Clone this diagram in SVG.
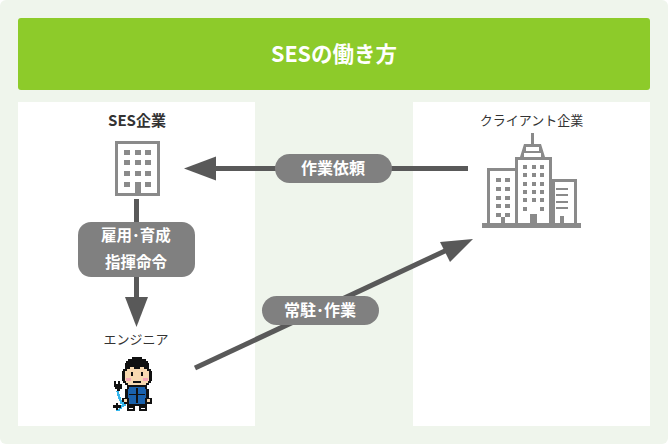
<svg xmlns="http://www.w3.org/2000/svg" width="668" height="444" viewBox="0 0 668 444">
<style>
text{font-family:"Noto Sans CJK JP","Noto Sans",sans-serif;text-anchor:middle}
.n{font-size:13px;fill:#333}
.l{font-size:16px;font-weight:700;fill:#fff}
.p{fill:#808080}
.c{stroke:#595959;stroke-width:5;fill:none}
.h{fill:#595959}
.g{fill:#8a8a8a}
.w{fill:#fff}
.k{fill:#111}
.s{fill:#f8d9b0}
.b{fill:#1a62ad}
</style>
<rect width="668" height="444" rx="6" fill="#eff5ec"/>
<g id="header"><rect x="18" y="18" width="632" height="72" rx="3" fill="#8dcb2a"/><text x="334" y="62" font-size="21.500" font-weight="700" fill="#fff">SESの働き方</text></g>
<rect x="18" y="102" width="237" height="324" fill="#fff"/>
<rect x="413" y="102" width="237" height="324" fill="#fff"/>
<g id="connectors">
<path class="c" d="M468 168.500H213"/><path class="h" d="M184 168.500L216 156.500V180.500Z"/>
<path class="c" d="M136.500 199V299"/><path class="h" d="M125 297H148L136.500 327Z"/>
<path class="c" d="M195 368L447 250"/><path class="h" d="M473 239L440 242L450 262Z"/>
</g>
<g id="ses">
<text class="n" x="137" y="126" style="font-size:15px;font-weight:700">SES企業</text>
<rect class="g" x="115" y="141" width="45" height="55"/><rect class="w" x="118" y="144" width="39" height="49"/>
<path class="g" d="M124 150h6v5h-6zM135 150h6v5h-6zM145 150h6v5h-6zM124 160h6v5h-6zM135 160h6v5h-6zM145 160h6v5h-6zM124 171h6v5h-6zM135 171h6v5h-6zM145 171h6v5h-6zM124 182h6v5h-6zM145 182h6v5h-6zM135 182h6v12h-6z"/>
</g>
<g id="client">
<text class="n" x="531.500" y="125">クライアント企業</text>
<path class="g" d="M531 133h3v11h-3zM482 223h99v5h-99z"/>
<path class="g" d="M487 168h28v55h-28zM515 157h37v66h-37zM552 179h25v44h-25zM520 157l4-13h17l4 13z"/>
<path class="w" d="M490 171h25v52h-25zM518 160h31v63h-31zM555 182h19v41h-19zM526 147h13v4h-13zM524 153h17v4h-17z"/>
<path class="g" d="M496 178h5v4h-5zM505 178h5v4h-5zM496 187h5v4h-5zM505 187h5v4h-5zM496 196h5v4h-5zM505 196h5v4h-5zM496 204h5v4h-5zM505 204h5v4h-5zM496 213h5v4h-5zM505 213h5v4h-5zM501 217h4v6h-4z"/>
<path class="g" d="M523 165h4v4h-4zM532 165h4v4h-4zM540 165h4v4h-4zM523 173h4v4h-4zM532 173h4v4h-4zM540 173h4v4h-4zM523 182h4v4h-4zM532 182h4v4h-4zM540 182h4v4h-4zM523 190h4v4h-4zM532 190h4v4h-4zM540 190h4v4h-4zM523 198h4v4h-4zM532 198h4v4h-4zM540 198h4v4h-4zM523 207h4v4h-4zM540 207h4v4h-4zM530 214h7v9h-7z"/>
<path class="g" d="M556 188h12v2h-12zM556 194h12v2h-12zM556 201h12v2h-12zM556 207h12v2h-12zM560 216h4v7h-4z"/>
</g>
<g id="engineer">
<text class="n" x="136" y="344">エンジニア</text>
<g shape-rendering="crispEdges">
<path class="k" d="M132 357h10v2h-10zM128 359h18v2h-18zM126 361h22v2h-22zM125 363h24v6h-24zM123 369h28v2h-28zM122 371h30v10h-30zM123 381h28v2h-28zM125 383h24v2h-24zM127 385h20v2h-20zM127 387h20v2h-20zM125 389h24v9h-24zM122 398h30v6h-30zM127 404h20v2h-20zM127 406h8v5h-8zM139 406h8v5h-8z"/>
<path class="s" d="M127 369h3v-2h4v2h6v-2h4v2h3v2h2v10h-1v2h-2v2h-18v-2h-2v-2h-1v-10h2z"/>
<path fill="#f7a8b8" d="M126 378h5v3h-5zM143 378h5v3h-5z"/>
<path class="k" d="M131 372h2v4h-2zM141 372h2v4h-2zM133 381h8v2h-8z"/>
<path class="b" d="M129 387h16v2h2v9h-2v6h-16v-6h-2v-9h2z"/>
<path class="k" d="M136 388h2v15h-2zM129 394h16v1h-16zM127 389h1v9h-1zM146 389h1v9h-1z"/>
<path class="s" d="M124 399h3v3h-3zM147 399h3v3h-3z"/>
<path class="w" d="M129 408h4v1h-4zM141 408h4v1h-4z"/>
<path fill="#35b6ec" d="M117 390h2v4h1v3h1v3h1v2h2v2h2v2h-2v1h-2v2h-2v2h-4v-2h3v-2h2v-2h1v-1h-2v-3h-1v-2h-1v-3h-1v-4h-1z"/>
<path class="k" d="M114 381h2v3h2v-3h2v3h2v5h-2v2h-3v-2h-2v-2h-1zM113 405h3v-2h2v2h3v3h-3v2h-2v-2h-3z"/>
</g>
</g>
<g id="label-request"><rect class="p" x="275" y="154" width="117" height="29" rx="14.500"/><text class="l" x="333" y="174">作業依頼</text></g>
<g id="label-employ"><rect class="p" x="78" y="222" width="117" height="55" rx="13"/><text class="l" x="136" y="241" style="font-size:15.500px">雇用･育成</text><text class="l" x="136" y="267.500" style="font-size:15.500px">指揮命令</text></g>
<g id="label-onsite"><rect class="p" x="262" y="296" width="117" height="29" rx="14.500"/><text class="l" x="320" y="316">常駐･作業</text></g>
</svg>
